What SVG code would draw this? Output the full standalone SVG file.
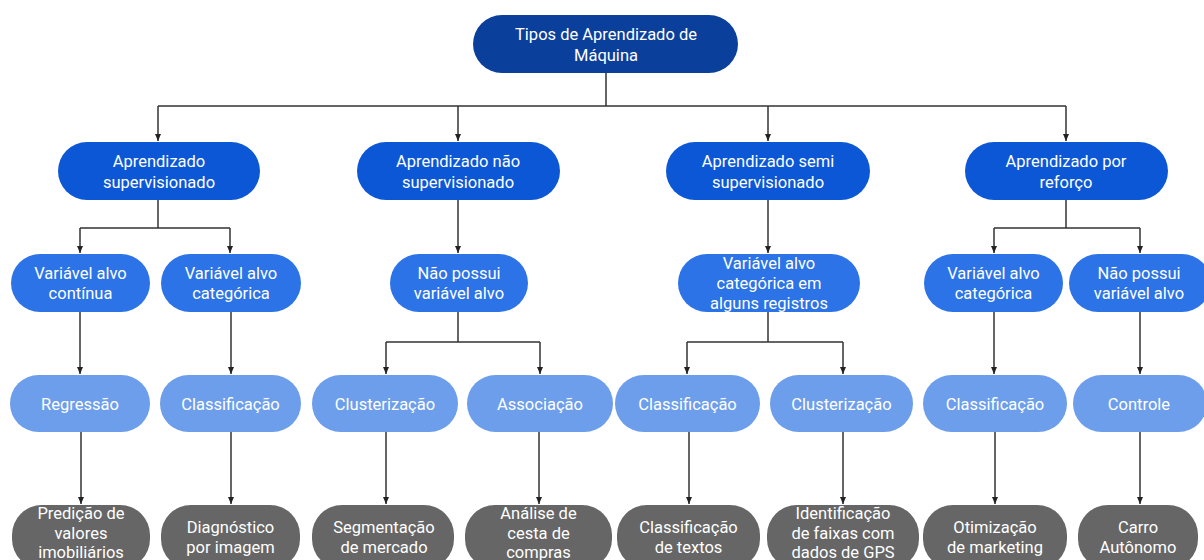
<svg xmlns="http://www.w3.org/2000/svg" width="1204" height="560" viewBox="0 0 1204 560">
<style>
text{font-family:Roboto,"Liberation Sans",sans-serif;font-size:16.5px;fill:#ffffff;text-anchor:middle}
.l1{fill:#0b3f9c}
.l2{fill:#0b57d6}
.l3{fill:#2b73e6}
.l4{fill:#6d9eeb}
.l5{fill:#666666}
.c{fill:none;stroke:#333333;stroke-width:1.5}
</style>
<defs>
<marker id="ah" markerUnits="userSpaceOnUse" markerWidth="7" markerHeight="6" viewBox="0 0 7 6" refX="7" refY="3" orient="auto">
<path d="M0,0 L7,3 L0,6 Z" fill="#222222"/>
</marker>
</defs>
<rect width="1204" height="560" fill="#ffffff"/>
<g id="connectors">
<path class="c" d="M606,73 V106 M158,106 H1066 M80,228 H230 M994,228 H1140 M386,342 H540 M687,342 H843"/>
<path class="c" d="M158,200 V228"/>
<path class="c" d="M1066,200 V228"/>
<path class="c" d="M458,312 V342"/>
<path class="c" d="M768,312 V342"/>
<g style="marker-end:url(#ah)">
<path class="c" d="M158,106 V141"/>
<path class="c" d="M458,106 V141"/>
<path class="c" d="M768,106 V141"/>
<path class="c" d="M1066,106 V141"/>
<path class="c" d="M80,228 V253"/>
<path class="c" d="M230,228 V253"/>
<path class="c" d="M458,200 V253"/>
<path class="c" d="M768,200 V253"/>
<path class="c" d="M994,228 V253"/>
<path class="c" d="M1140,228 V253"/>
<path class="c" d="M80,312 V374"/>
<path class="c" d="M231,312 V374"/>
<path class="c" d="M386,342 V374"/>
<path class="c" d="M540,342 V374"/>
<path class="c" d="M687,342 V374"/>
<path class="c" d="M843,342 V374"/>
<path class="c" d="M994,312 V374"/>
<path class="c" d="M1140,312 V374"/>
<path class="c" d="M81,432 V504"/>
<path class="c" d="M231,432 V504"/>
<path class="c" d="M386,432 V504"/>
<path class="c" d="M539,432 V504"/>
<path class="c" d="M689,432 V504"/>
<path class="c" d="M843,432 V504"/>
<path class="c" d="M995,432 V504"/>
<path class="c" d="M1140,432 V504"/>
</g>
</g>
<g id="n-root"><rect class="l1" x="473" y="15" width="265" height="58" rx="29"/><text x="606" y="40">Tipos de Aprendizado de</text><text x="606" y="61">Máquina</text></g>
<g id="n-sup"><rect class="l2" x="58" y="142" width="202" height="58" rx="29"/><text x="159" y="167">Aprendizado</text><text x="159" y="188">supervisionado</text></g>
<g id="n-nsup"><rect class="l2" x="357" y="142" width="203" height="58" rx="29"/><text x="458" y="167">Aprendizado não</text><text x="458" y="188">supervisionado</text></g>
<g id="n-semi"><rect class="l2" x="666" y="142" width="204" height="58" rx="29"/><text x="768" y="167">Aprendizado semi</text><text x="768" y="188">supervisionado</text></g>
<g id="n-ref"><rect class="l2" x="965" y="142" width="203" height="58" rx="29"/><text x="1066" y="167">Aprendizado por</text><text x="1066" y="188">reforço</text></g>
<g id="n-cont"><rect class="l3" x="11" y="254" width="139" height="58" rx="29"/><text x="80.5" y="278.5">Variável alvo</text><text x="80.5" y="299">contínua</text></g>
<g id="n-cat1"><rect class="l3" x="161" y="254" width="140" height="58" rx="29"/><text x="231" y="278.5">Variável alvo</text><text x="231" y="299">categórica</text></g>
<g id="n-nposs1"><rect class="l3" x="390" y="254" width="138" height="58" rx="29"/><text x="459" y="278.5">Não possui</text><text x="459" y="299">variável alvo</text></g>
<g id="n-catalg"><rect class="l3" x="678" y="254" width="182" height="58" rx="29"/><text x="769" y="268.5">Variável alvo</text><text x="769" y="288.5">categórica em</text><text x="769" y="308.5">alguns registros</text></g>
<g id="n-cat2"><rect class="l3" x="924" y="254" width="139" height="58" rx="29"/><text x="993.5" y="278.5">Variável alvo</text><text x="993.5" y="299">categórica</text></g>
<g id="n-nposs2"><rect class="l3" x="1069" y="254" width="142" height="58" rx="29"/><text x="1139" y="278.5">Não possui</text><text x="1139" y="299">variável alvo</text></g>
<g id="n-regr"><rect class="l4" x="10" y="375" width="140" height="57" rx="28.5"/><text x="80" y="409.5">Regressão</text></g>
<g id="n-class1"><rect class="l4" x="160" y="375" width="141" height="57" rx="28.5"/><text x="230.5" y="409.5">Classificação</text></g>
<g id="n-clust1"><rect class="l4" x="312" y="375" width="146" height="57" rx="28.5"/><text x="385" y="409.5">Clusterização</text></g>
<g id="n-assoc"><rect class="l4" x="467" y="375" width="146" height="57" rx="28.5"/><text x="540" y="409.5">Associação</text></g>
<g id="n-class2"><rect class="l4" x="615" y="375" width="145" height="57" rx="28.5"/><text x="687.5" y="409.5">Classificação</text></g>
<g id="n-clust2"><rect class="l4" x="770" y="375" width="143" height="57" rx="28.5"/><text x="841.5" y="409.5">Clusterização</text></g>
<g id="n-class3"><rect class="l4" x="923" y="375" width="144" height="57" rx="28.5"/><text x="995" y="409.5">Classificação</text></g>
<g id="n-ctrl"><rect class="l4" x="1073" y="375" width="134" height="57" rx="28.5"/><text x="1139" y="409.5">Controle</text></g>
<g id="n-pred"><rect class="l5" x="12" y="505" width="138" height="64" rx="30"/><text x="81" y="519">Predição de</text><text x="81" y="539">valores</text><text x="81" y="558">imobiliários</text></g>
<g id="n-diag"><rect class="l5" x="161" y="505" width="139" height="64" rx="30"/><text x="230.5" y="532.5">Diagnóstico</text><text x="230.5" y="553">por imagem</text></g>
<g id="n-seg"><rect class="l5" x="312" y="505" width="142" height="64" rx="30"/><text x="384" y="532.5">Segmentação</text><text x="384" y="553">de mercado</text></g>
<g id="n-anal"><rect class="l5" x="465" y="505" width="147" height="64" rx="30"/><text x="538.5" y="519">Análise de</text><text x="538.5" y="539">cesta de</text><text x="538.5" y="558">compras</text></g>
<g id="n-ctext"><rect class="l5" x="617" y="505" width="143" height="64" rx="30"/><text x="688.5" y="532.5">Classificação</text><text x="688.5" y="553">de textos</text></g>
<g id="n-ident"><rect class="l5" x="767" y="505" width="152" height="64" rx="30"/><text x="843" y="519">Identificação</text><text x="843" y="539">de faixas com</text><text x="843" y="558">dados de GPS</text></g>
<g id="n-otim"><rect class="l5" x="923" y="505" width="144" height="64" rx="30"/><text x="995" y="532.5">Otimização</text><text x="995" y="553">de marketing</text></g>
<g id="n-carro"><rect class="l5" x="1078" y="505" width="120" height="64" rx="30"/><text x="1138" y="532.5">Carro</text><text x="1138" y="553">Autônomo</text></g>
</svg>
